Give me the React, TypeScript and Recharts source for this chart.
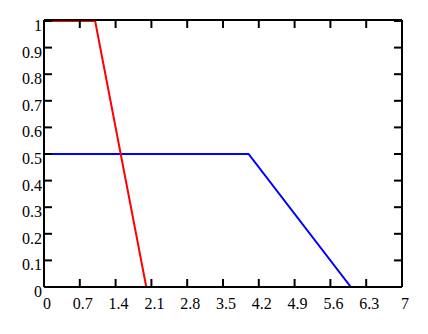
import React from 'react';
import { LineChart, Line, XAxis, YAxis } from 'recharts';

if (typeof document !== 'undefined') document.body.style.margin = '0';

// x ticks and y ticks as printed
const xTicks = [0, 0.7, 1.4, 2.1, 2.8, 3.5, 4.2, 4.9, 5.6, 6.3, 7];
const yTicks = [0, 0.1, 0.2, 0.3, 0.4, 0.5, 0.6, 0.7, 0.8, 0.9, 1];

// red series
const redX = [0, 1, 2];
const redY = [1, 1, 0];
// blue series
const blueX = [0, 4, 6];
const blueY = [0.5, 0.5, 0];

const redData = redX.map((x, i) => ({ x, y: redY[i] }));
const blueData = blueX.map((x, i) => ({ x, y: blueY[i] }));

const TICK = 8;

// plot box: x 44..402, y 21..287
const BottomTick = (props: any) => {
  const { x, payload } = props;
  const y = 287;
  return (
    <g>
      <line x1={x} y1={y} x2={x} y2={y - TICK} stroke="#000" strokeWidth={2} />
      <text x={x + 3} y={y + 22} textAnchor="middle" fontFamily="Liberation Serif"
        fontSize={16} fill="#000">
        {String(payload.value)}
      </text>
    </g>
  );
};

const TopTick = (props: any) => {
  const { x } = props;
  const y = 20;
  return <line x1={x} y1={y} x2={x} y2={y + TICK} stroke="#000" strokeWidth={2} />;
};

const LeftTick = (props: any) => {
  const { y, payload } = props;
  const x = 44;
  return (
    <g>
      <line x1={x} y1={y} x2={x + TICK} y2={y} stroke="#000" strokeWidth={2} />
      <text x={x - 2} y={y + 10} textAnchor="end" fontFamily="Liberation Serif"
        fontSize={16} fill="#000">
        {String(payload.value)}
      </text>
    </g>
  );
};

const RightTick = (props: any) => {
  const { y } = props;
  const x = 402;
  return <line x1={x} y1={y} x2={x - TICK} y2={y} stroke="#000" strokeWidth={2} />;
};

export default function App() {
  const axisLine = { stroke: '#000', strokeWidth: 2 };
  const topLine = { stroke: '#000', strokeWidth: 2, transform: 'translate(0,-1)' };
  return (
    <LineChart width={428} height={334} margin={{ top: 11, left: 4, right: 16, bottom: 17 }}>
      <XAxis xAxisId="b" type="number" dataKey="x" domain={[0, 7]} ticks={xTicks}
        height={30} tickSize={0} tickMargin={0} axisLine={axisLine} tickLine={false}
        tick={<BottomTick />} interval={0} allowDataOverflow />
      <XAxis xAxisId="t" orientation="top" type="number" dataKey="x" domain={[0, 7]} ticks={xTicks}
        height={10} tickSize={0} tickMargin={0} axisLine={topLine} tickLine={false}
        tick={<TopTick />} interval={0} allowDataOverflow />
      <YAxis yAxisId="l" type="number" domain={[0, 1]} ticks={yTicks}
        width={40} tickSize={0} tickMargin={0} axisLine={axisLine} tickLine={false}
        tick={<LeftTick />} interval={0} allowDataOverflow />
      <YAxis yAxisId="r" orientation="right" type="number" domain={[0, 1]} ticks={yTicks}
        width={10} tickSize={0} tickMargin={0} axisLine={axisLine} tickLine={false}
        tick={<RightTick />} interval={0} allowDataOverflow />
      <Line xAxisId="b" yAxisId="l" data={blueData} dataKey="y" type="linear"
        stroke="#0000ff" strokeWidth={2} dot={false} isAnimationActive={false} />
      <Line xAxisId="t" yAxisId="r" data={redData} dataKey="y" type="linear"
        stroke="#ff0000" strokeWidth={2} dot={false} isAnimationActive={false} />
    </LineChart>
  );
}
